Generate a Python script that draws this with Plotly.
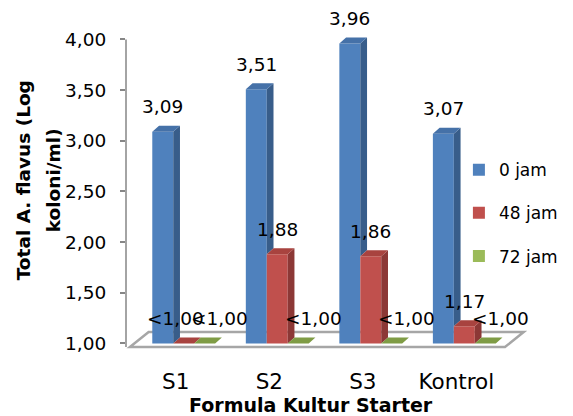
import plotly.graph_objects as go

# Aspergillus flavus counts per starter formula and storage time (log koloni/ml)
categories = ["S1", "S2", "S3", "Kontrol"]
series_names = ["0 jam", "48 jam", "72 jam"]
jam0 = [3.09, 3.51, 3.96, 3.07]
jam48 = [1.00, 1.88, 1.86, 1.17]
jam72 = [1.00, 1.00, 1.00, 1.00]
labels0 = ["3,09", "3,51", "3,96", "3,07"]
labels48 = ["<1,00", "1,88", "1,86", "1,17"]
labels72 = ["<1,00", "<1,00", "<1,00", "<1,00"]
y_ticks = [1.0, 1.5, 2.0, 2.5, 3.0, 3.5, 4.0]

values = [jam0, jam48, jam72]
labels = [labels0, labels48, labels72]

FONT = "DejaVu Sans"
BASE = 1.0            # floor of the value axis
BAR_W = 0.224         # bar width in category units
GROUP_SHIFT = 0.085   # cluster centre relative to the category tick
DEPTH_X = 0.072       # oblique depth of the pseudo-3D bars
DEPTH_Y = 0.059

front_col = ["#4F81BD", "#C0504D", "#9BBB59"]
side_col = ["#385D8A", "#8C3836", "#71893F"]
top_col = ["#4571A8", "#A8433F", "#7F9C45"]
# small sideways nudges for the "<1,00" labels so they do not pile up
below_nudge = [0, -8, 15]

n = len(series_names)


def bar_centre(s, i):
    return i + GROUP_SHIFT + (s - (n - 1) / 2) * BAR_W


fig = go.Figure()

# front faces
for s in range(n):
    fig.add_trace(go.Bar(
        x=[bar_centre(s, i) for i in range(len(categories))],
        y=[v - BASE for v in values[s]],
        base=BASE,
        width=BAR_W,
        name=series_names[s],
        legendgroup=series_names[s],
        marker=dict(color=front_col[s], line=dict(width=0)),
        hoverinfo="skip",
    ))

# side and top faces, drawn series by series so nearer faces cover farther ones
for s in range(n):
    sx, sy, tx, ty = [], [], [], []
    for i, v in enumerate(values[s]):
        xc = bar_centre(s, i)
        xl, xr = xc - BAR_W / 2, xc + BAR_W / 2
        lo = max(BASE, values[s + 1][i]) if s + 1 < n else BASE
        if v > lo:
            sx += [xr, xr, xr + DEPTH_X, xr + DEPTH_X, xr, None]
            sy += [lo, v, v + DEPTH_Y, lo + DEPTH_Y, lo, None]
        tx += [xl, xr, xr + DEPTH_X, xl + DEPTH_X, xl, None]
        ty += [v, v, v + DEPTH_Y, v + DEPTH_Y, v, None]
    if sx:
        fig.add_trace(go.Scatter(x=sx, y=sy, mode="lines", fill="toself",
                                 fillcolor=side_col[s], line=dict(width=0),
                                 showlegend=False, hoverinfo="skip"))
    fig.add_trace(go.Scatter(x=tx, y=ty, mode="lines", fill="toself",
                             fillcolor=top_col[s], line=dict(width=0),
                             showlegend=False, hoverinfo="skip"))

# value labels above each bar
for s in range(n):
    for i, v in enumerate(values[s]):
        txt = labels[s][i]
        fig.add_annotation(
            x=bar_centre(s, i), y=v, xref="x", yref="y",
            text=txt, showarrow=False, yshift=25,
            xshift=below_nudge[s] if txt.startswith("<") else 0,
            font=dict(family=FONT, size=18.5, color="#000000"),
        )

# floor of the 3D plot area
floor_front, floor_back = BASE - 0.035, BASE + 0.113
fx0, fx1, fdx = -0.49, 3.52, 0.2
fig.add_shape(
    type="path", xref="x", yref="y", layer="below",
    path=(f"M {fx0},{floor_front} L {fx0 + fdx},{floor_back} "
          f"L {fx1 + fdx},{floor_back} L {fx1},{floor_front} Z"),
    fillcolor="#FFFFFF", line=dict(color="#A6A6A6", width=2.5),
)
# value axis line
fig.add_shape(type="line", xref="paper", yref="y", x0=0, x1=0,
              y0=floor_front, y1=y_ticks[-1],
              line=dict(color="#868686", width=1.5))

# axis titles
title_font = dict(family=FONT, size=18.5, color="#000000")
fig.add_annotation(text="<b>Total A. flavus (Log</b>", xref="paper", yref="paper",
                   x=-0.251, y=0.503, xanchor="center", yanchor="middle",
                   textangle=-90, showarrow=False, font=title_font)
fig.add_annotation(text="<b>koloni/ml)</b>", xref="paper", yref="paper",
                   x=-0.177, y=0.503, xanchor="center", yanchor="middle",
                   textangle=-90, showarrow=False, font=title_font)
fig.add_annotation(text="<b>Formula Kultur Starter</b>", xref="paper", yref="paper",
                   x=0.458, y=-0.155, xanchor="center", yanchor="middle",
                   showarrow=False, font=dict(family=FONT, size=19, color="#000000"))

fig.update_layout(
    width=573, height=416,
    margin=dict(l=126, r=28, t=10, b=64),
    paper_bgcolor="#FFFFFF", plot_bgcolor="#FFFFFF",
    separators=",.",
    barmode="overlay",
    font=dict(family=FONT, size=17, color="#000000"),
    showlegend=True,
    legend=dict(
        x=0.822, y=0.406, xanchor="left", yanchor="middle",
        traceorder="grouped", tracegroupgap=18,
        font=dict(family=FONT, size=17, color="#000000"),
        bgcolor="rgba(0,0,0,0)", itemclick=False,
    ),
    xaxis=dict(
        range=[-0.532, 3.798], tickmode="array",
        tickvals=list(range(len(categories))), ticktext=categories,
        showgrid=False, zeroline=False, showline=False, ticks="",
        tickfont=dict(family=FONT, size=21.5, color="#000000"),
        ticklabelstandoff=14,
    ),
    yaxis=dict(
        range=[0.916, 4.291], tickmode="array", tickvals=y_ticks,
        tickformat=".2f", showgrid=False, zeroline=False, showline=False,
        ticks="outside", ticklen=5, tickwidth=1.5, tickcolor="#868686",
        tickfont=dict(family=FONT, size=18.5, color="#000000"),
        ticklabelstandoff=10,
    ),
)

fig.write_html("out.html")
